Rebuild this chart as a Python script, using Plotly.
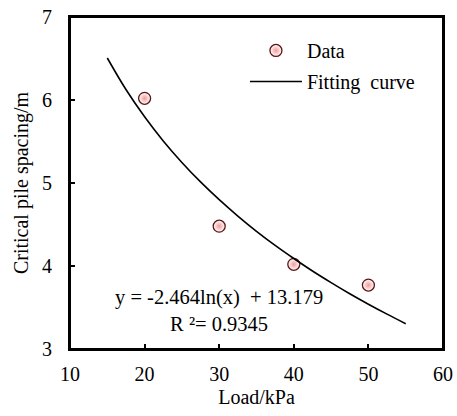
import plotly.graph_objects as go

# Data
load_kpa = [20, 30, 40, 50]
spacing_m = [6.02, 4.48, 4.02, 3.77]

# Fitting curve y = -2.464 ln(x) + 13.179
fit_x = [15, 17.5, 20, 22.5, 25, 27.5, 30, 32.5, 35, 37.5, 40, 42.5, 45, 47.5, 50, 52.5, 55]
fit_y = [6.506, 6.126, 5.798, 5.507, 5.248, 5.013, 4.799, 4.602, 4.418, 4.248, 4.090, 3.940, 3.800, 3.666, 3.540, 3.420, 3.305]

x_ticks = [10, 20, 30, 40, 50, 60]
y_ticks = [3, 4, 5, 6, 7]

FONT = "Liberation Serif"

fig = go.Figure()
fig.add_trace(go.Scatter(
    x=load_kpa, y=spacing_m, mode="markers", name="Data", legendgroup="a",
    marker=dict(size=12, color="#ffffff",
                gradient=dict(type="radial", color="#f39a9a"),
                line=dict(color="#5a1515", width=1.3)),
))
fig.add_trace(go.Scatter(
    x=fit_x, y=fit_y, mode="lines", name="Fitting  curve", legendgroup="b",
    line=dict(color="black", width=1.6, shape="spline"),
))

axis_common = dict(
    showline=True, linecolor="black", linewidth=2, mirror=True,
    ticks="inside", ticklen=5, tickwidth=1.5, tickcolor="black",
    showgrid=False, zeroline=False, automargin=False,
    ticklabeloverflow="allow",
    tickfont=dict(family=FONT, size=20, color="black"),
)

fig.update_layout(
    width=457, height=416,
    margin=dict(l=70, r=14, t=17, b=67),
    paper_bgcolor="white", plot_bgcolor="white",
    font=dict(family=FONT, size=20, color="black"),
    xaxis=dict(range=[10, 60], tickvals=x_ticks, **axis_common,
               ticklabelstandoff=6,
               title=dict(text="Load/kPa", font=dict(family=FONT, size=20), standoff=6)),
    yaxis=dict(range=[3, 7], tickvals=y_ticks, **axis_common,
               ticklabelstandoff=12,
               title=dict(text="Critical pile spacing/m", font=dict(family=FONT, size=20), standoff=8)),
    legend=dict(x=0.469, y=0.958, xanchor="left", yanchor="top",
                bgcolor="rgba(0,0,0,0)", itemwidth=52,
                font=dict(family=FONT, size=20, color="black"),
                tracegroupgap=2),
    showlegend=True,
)

# plot frame
fig.add_shape(type="rect", xref="paper", yref="paper", x0=0, x1=1, y0=0, y1=1,
              line=dict(color="black", width=2), fillcolor="rgba(0,0,0,0)", layer="above")

fig.add_annotation(x=30, y=3.46, xref="x", yref="y",
                   text="y = -2.464ln(x)  + 13.179<br>R ²= 0.9345",
                   showarrow=False, align="center",
                   font=dict(family=FONT, size=20.5, color="black"))

# remove the default 8px page margin so the figure fills the window exactly
fig.write_html("out.html",
               config={"displayModeBar": False},
               post_script="document.body.style.margin='0';document.body.style.overflow='hidden';")
